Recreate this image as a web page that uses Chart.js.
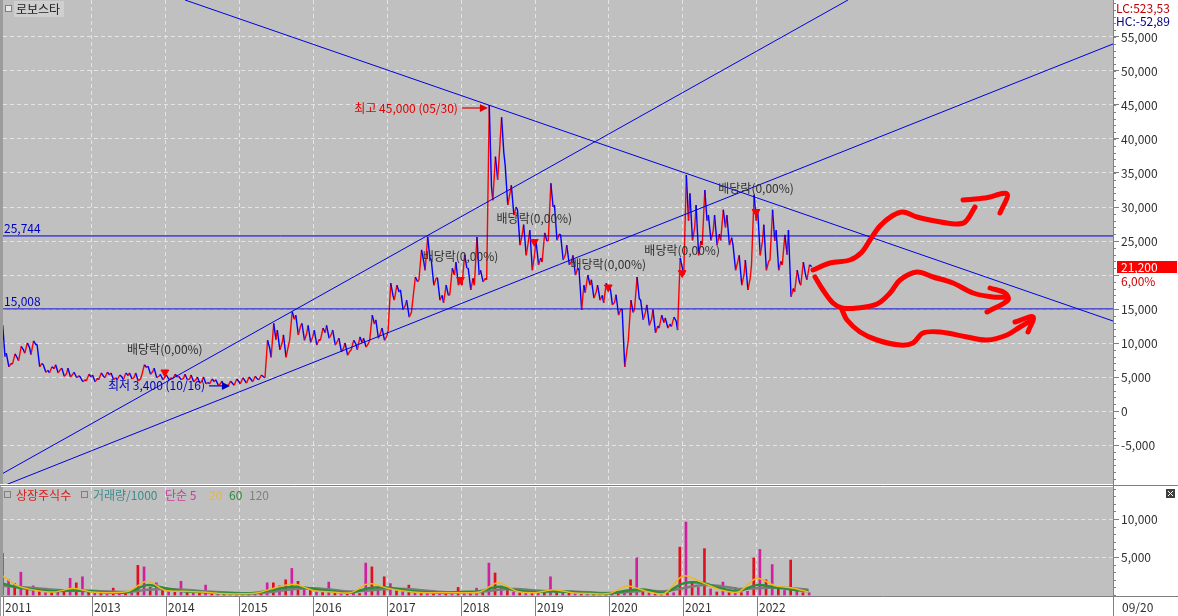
<!DOCTYPE html>
<html>
<head>
<meta charset="utf-8">
<script src="https://cdn.jsdelivr.net/npm/chart.js@4.4.0/dist/chart.umd.min.js"></script>
<style>
  body { margin: 0; background: #fff; width: 1178px; height: 616px; overflow: hidden; position: relative; }
  canvas { position: absolute; left: 0; }
  #price { top: 0; }
  #volume { top: 486px; }
</style>
</head>
<body>
<canvas id="price" width="1178" height="486"></canvas>
<canvas id="volume" width="1178" height="130"></canvas>
<script>
// monthly bars, Oct 2011 .. Sep 2022 (high / low / close)
const firstMonth = [2011, 10];
const priceHigh = [
  12600, 8500, 8400,
  9500, 10000, 10300, 9700, 6800, 6500, 6800, 6300, 6300, 5700, 5000, 5400,
  5300, 5600, 5700, 5600, 5300, 5600, 5600, 5600, 6800, 6600, 6300, 5400,
  5300, 5400, 5100, 5400, 5300, 5000, 5000, 4700, 4600, 4400, 4400, 4700,
  4900, 5000, 5100, 5300, 10400, 12900, 11900, 11200, 14600, 14100, 12900, 12600,
  11900, 12200, 12600, 11900, 10700, 10000, 10400, 10900, 10700, 14100, 13400, 12200,
  18800, 18500, 17800, 16300, 19700, 23700, 25600, 22200, 19600, 18500, 21000, 21900,
  23000, 21000, 25600, 20700, 45000, 37400, 43200, 36200, 33200, 29600, 27400, 26600,
  25100, 26200, 33500, 30300, 25900, 24400, 22900, 20700, 20000, 19300, 18500, 18800,
  18500, 17100, 14900, 16300, 19700, 16300, 15600, 14900, 14100, 13700, 13800, 22500,
  34700, 32000, 30300, 32500, 28800, 28800, 29600, 28800, 24400, 22900, 22200, 31800,
  29600, 27400, 29600, 26600, 25900, 26600, 20700, 21900, 21500
];
const priceLow = [
  7300, 6500, 6900,
  7400, 8500, 8300, 6500, 5700, 5600, 5600, 5100, 5000, 4900, 4300, 4400,
  4300, 4600, 4900, 4600, 4600, 4600, 4700, 4400, 5300, 5400, 4900, 4600,
  4600, 4700, 4600, 4600, 4300, 4100, 4000, 4000, 3800, 3400, 3700, 3800,
  4000, 4100, 4300, 4600, 4900, 7900, 9000, 7900, 10400, 11200, 10400, 10100,
  9700, 10400, 10700, 9700, 8700, 8200, 9000, 9000, 9400, 10400, 10700, 10400,
  11900, 16300, 14900, 13800, 16300, 19300, 20700, 18500, 16300, 15900, 17100, 18500,
  18500, 17800, 18500, 19000, 19300, 31000, 36900, 30300, 28800, 24400, 22900, 20700,
  21500, 21900, 25100, 25100, 22200, 21500, 20000, 14900, 17400, 16600, 16300, 15900,
  15600, 14100, 6500, 10400, 14900, 13400, 12600, 11500, 12200, 12200, 12400, 11900,
  20000, 25100, 22900, 24400, 25100, 24400, 25100, 24400, 20700, 18500, 17800, 21500,
  22900, 20700, 22200, 20700, 21500, 16800, 17500, 18500, 19300
];
const priceClose = [
  8000, 7000, 7800,
  9000, 9300, 9800, 7000, 6000, 6200, 6100, 5500, 5400, 5200, 4600, 5000,
  4800, 5100, 5300, 4900, 5000, 5200, 5000, 4700, 6400, 5800, 5100, 5000,
  4900, 5000, 4800, 4700, 4600, 4400, 4200, 4300, 4000, 3800, 4000, 4300,
  4400, 4600, 4700, 5000, 9200, 10500, 10000, 9500, 13500, 12500, 11400, 11000,
  10500, 11500, 11300, 10300, 9300, 8800, 9800, 10000, 9900, 12800, 11500, 11000,
  17000, 17500, 15500, 14500, 19000, 22000, 22500, 19500, 17000, 17000, 20000, 19500,
  21000, 19500, 20000, 19500, 33000, 34000, 38000, 32000, 30000, 26000, 25000, 23000,
  22500, 25000, 30000, 26000, 23000, 22000, 21000, 18500, 18500, 17500, 17000, 17800,
  16000, 15000, 9000, 14500, 16500, 14500, 13500, 12500, 13000, 12800, 13200, 21000,
  28000, 27000, 25000, 28000, 26500, 26000, 27000, 25500, 22000, 20000, 19500, 28000,
  25000, 22000, 25000, 22000, 23000, 18000, 19000, 20000, 21200
];
const volume = [
  5500, 2000, 1500,
  3000, 1000, 1200, 800, 600, 500, 400, 400, 2200, 1600, 2400, 400,
  300, 300, 300, 900, 300, 300, 300, 3900, 3700, 1000, 1600, 800,
  500, 400, 1800, 400, 300, 300, 1300, 300, 200, 200, 200, 200,
  200, 200, 200, 500, 1600, 1600, 1200, 2000, 3500, 1800, 800, 1000,
  500, 400, 1700, 400, 300, 300, 300, 200, 4200, 3700, 1000, 2400,
  1500, 600, 500, 1300, 500, 400, 300, 300, 300, 300, 300, 1000,
  300, 300, 900, 400, 4200, 2900, 1200, 600, 400, 300, 300, 300,
  300, 300, 2400, 600, 300, 300, 200, 300, 200, 200, 200, 200,
  200, 300, 300, 2000, 4900, 600, 400, 300, 200, 200, 300, 6300,
  9600, 1800, 1000, 6100, 800, 400, 1700, 400, 1000, 300, 500, 4900,
  6000, 2000, 4000, 800, 600, 4600, 500, 300, 300
];

// volume moving averages, read quarterly
const maDates = [2011.8, 2012.0, 2012.25, 2012.5, 2012.75, 2013.0, 2013.25, 2013.5, 2013.75,
  2014.0, 2014.25, 2014.5, 2014.75, 2015.0, 2015.25, 2015.5, 2015.75, 2016.0, 2016.25, 2016.5, 2016.75,
  2017.0, 2017.25, 2017.5, 2017.75, 2018.0, 2018.25, 2018.5, 2018.75, 2019.0, 2019.25, 2019.5, 2019.75,
  2020.0, 2020.25, 2020.5, 2020.75, 2021.0, 2021.25, 2021.5, 2021.75, 2022.0, 2022.25, 2022.5, 2022.7];
const ma20 = [2500, 1200, 600, 400, 900, 400, 300, 500, 1800, 600, 500, 400, 200, 150, 300, 1000, 1400,
  600, 400, 300, 1500, 900, 500, 300, 300, 300, 400, 1600, 500, 300, 700, 300, 200, 200, 1200, 500, 200,
  2500, 1700, 700, 400, 2200, 1200, 900, 400];
const ma60 = [1500, 1000, 700, 500, 600, 500, 300, 400, 1300, 900, 500, 400, 250, 200, 300, 800, 1100,
  800, 500, 300, 900, 1000, 600, 400, 300, 400, 500, 1100, 600, 400, 500, 400, 250, 200, 600, 700, 300,
  1500, 1600, 900, 500, 1300, 1000, 700, 500];
const ma120 = [1200, 1100, 900, 700, 600, 550, 450, 400, 700, 800, 700, 500, 350, 250, 250, 500, 800,
  900, 700, 450, 600, 800, 800, 600, 400, 350, 400, 700, 800, 600, 500, 450, 350, 250, 400, 550, 500,
  900, 1300, 1200, 800, 900, 1000, 900, 700];

// drawn lines: [year, price]
const fallLine = [[2014.263, 60441], [2026.82, 13235]];
const riseSteep = [[2011.80, -9162], [2023.234, 60441]];
const riseSlow = [[2011.80, -11029], [2026.82, 53971]];
const levels = [25744, 15008];

// dividend marks
const divDates = [2013.99, 2017.99, 2018.99, 2019.99, 2020.99, 2021.99];
const divPrice = [5700, 19300, 24900, 18200, 20300, 29300];
const divText = '배당락(0,00%)';
const highNote = { t: 2018.375, v: 45000, text: '최고 45,000 (05/30)' };
const lowNote = { t: 2014.79, v: 3400, text: '최저 3,400 (10/16)' };

// hand-drawn red arrows
const upperPath = [[2022.761, 20735], [2022.991, 21765], [2023.261, 22206], [2023.424, 23383], [2023.532, 25147],
  [2023.667, 27206], [2023.830, 28677], [2023.979, 29265], [2024.168, 28530], [2024.412, 27941],
  [2024.682, 27500], [2024.818, 27794], [2024.953, 30000]];
const upperHead = [[2024.791, 31030], [2025.088, 31324], [2025.386, 31912], [2025.291, 29118]];
const middlePath = [[2022.788, 19706], [2022.896, 17794], [2023.031, 15882], [2023.153, 15147], [2023.356, 15147],
  [2023.627, 15735], [2023.803, 17353], [2023.938, 19265], [2024.168, 20441], [2024.385, 19706],
  [2024.655, 18824], [2024.926, 17353], [2025.196, 16765], [2025.386, 16765]];
const middleHead = [[2025.156, 18088], [2025.359, 17353], [2025.399, 16324], [2025.115, 14559]];
const lowerPath = [[2023.153, 14853], [2023.221, 13382], [2023.397, 11618], [2023.627, 10441], [2023.938, 9706],
  [2024.114, 10000], [2024.249, 11471], [2024.479, 11618], [2024.845, 10882], [2025.115, 10441],
  [2025.386, 11176], [2025.562, 12353], [2025.724, 13382]];
const lowerHead = [[2025.494, 13088], [2025.738, 13824], [2025.670, 11618]];

// axes
const X_MIN = 2011.80, X_MAX = 2026.82;
const priceTicks = [-5000, 0, 5000, 10000, 15000, 20000, 25000, 30000, 35000, 40000, 45000, 50000, 55000];
const volTicks = [5000, 10000];
const yearTicks = [2013, 2014, 2015, 2016, 2017, 2018, 2019, 2020, 2021, 2022];
const xLabels = ['2011', '2013', '2014', '2015', '2016', '2017', '2018', '2019', '2020', '2021', '2022'];
const xLabelAt = [2011.80, 2013, 2014, 2015, 2016, 2017, 2018, 2019, 2020, 2021, 2022];
const lastDateLabel = '09/20';

const FONT = '"Noto Sans CJK KR", "Noto Sans", sans-serif';
const PANEL_BG = '#c0c0c0';
const GRID = '#e4e4e4';
const RED = '#ff0000';
const BLUE = '#0000ff';
const LINE_BLUE = '#0000e0';

const monthT = [];
for (let y = firstMonth[0], m = firstMonth[1]; monthT.length < priceHigh.length; ) {
  monthT.push(y + (m - 0.5) / 12);
  if (++m > 12) { m = 1; y++; }
}
const isUp = i => i === 0 || priceClose[i] >= priceClose[i - 1];
const pts = arr => arr.map(p => ({ x: p[0], y: p[1] }));

// each month drawn as low->high->close (up) or high->low->close (down)
const pricePath = [];
monthT.forEach((t, i) => {
  const up = isUp(i);
  pricePath.push(
    { x: t - 0.03, y: up ? priceLow[i] : priceHigh[i] },
    { x: t + 0.005, y: up ? priceHigh[i] : priceLow[i] },
    { x: t + 0.035, y: priceClose[i] }
  );
});

function fmt(v) { return v.toLocaleString('en-US'); }

function fillPanel(chart) {
  const { ctx, chartArea: a, width, height } = chart;
  ctx.save();
  ctx.fillStyle = '#fff';
  ctx.fillRect(0, 0, width, height);
  ctx.fillStyle = PANEL_BG;
  ctx.fillRect(a.left, a.top, a.right - a.left, a.bottom - a.top);
  ctx.fillStyle = '#9c9c9c';
  ctx.fillRect(0, a.top, a.left, a.bottom - a.top);
  ctx.restore();
}

function minorTicks(chart, step) {
  const { ctx, chartArea: a } = chart;
  const ys = chart.scales.y;
  ctx.save();
  ctx.strokeStyle = '#808080';
  ctx.lineWidth = 1;
  ctx.beginPath();
  for (let v = Math.ceil(ys.min / step) * step; v <= ys.max; v += step) {
    const y = Math.round(ys.getPixelForValue(v)) + 0.5;
    ctx.moveTo(a.right, y);
    ctx.lineTo(a.right + 3, y);
  }
  ctx.stroke();
  ctx.restore();
}

function arrowRight(ctx, x1, x2, y, color) {
  ctx.strokeStyle = color;
  ctx.fillStyle = color;
  ctx.lineWidth = 1.2;
  ctx.beginPath();
  ctx.moveTo(x1, y);
  ctx.lineTo(x2 - 5, y);
  ctx.stroke();
  ctx.beginPath();
  ctx.moveTo(x2, y);
  ctx.lineTo(x2 - 8, y - 4);
  ctx.lineTo(x2 - 8, y + 4);
  ctx.closePath();
  ctx.fill();
}

const pricePlugin = {
  id: 'pricePlugin',
  beforeDraw: fillPanel,
  afterDatasetsDraw(chart) {
    const { ctx, chartArea: a } = chart;
    const xs = chart.scales.x, ys = chart.scales.y;
    ctx.save();
    ctx.font = '12px ' + FONT;
    ctx.textBaseline = 'middle';

    // level labels
    ctx.fillStyle = '#0000c0';
    ctx.textAlign = 'left';
    levels.forEach(v => ctx.fillText(fmt(v), a.left + 1, ys.getPixelForValue(v) - 8));

    // dividend notes
    ctx.fillStyle = '#303030';
    ctx.textAlign = 'center';
    divDates.forEach((t, i) => {
      ctx.fillText(divText, xs.getPixelForValue(t), ys.getPixelForValue(divPrice[i]) - 23);
    });

    // high / low notes
    let px = xs.getPixelForValue(highNote.t), py = ys.getPixelForValue(highNote.v) + 3;
    ctx.fillStyle = '#e00000';
    ctx.textAlign = 'right';
    ctx.fillText(highNote.text, px - 31, py);
    arrowRight(ctx, px - 27, px - 1, py, '#e00000');

    px = xs.getPixelForValue(lowNote.t) + 6;
    py = ys.getPixelForValue(lowNote.v) - 2;
    ctx.fillStyle = '#0000c0';
    ctx.fillText(lowNote.text, px - 25, py);
    arrowRight(ctx, px - 21, px, py, '#0000c0');

    // title
    ctx.fillStyle = '#e8e8e8';
    ctx.fillRect(5, 5, 6, 6);
    ctx.strokeStyle = '#808080';
    ctx.lineWidth = 1;
    ctx.strokeRect(5.5, 5.5, 6, 6);
    ctx.fillStyle = '#cfcfcf';
    ctx.fillRect(14, 1, 50, 16);
    ctx.fillStyle = '#202020';
    ctx.textAlign = 'left';
    ctx.fillText('로보스타', 16, 9);
    ctx.restore();
  },
  afterDraw(chart) {
    const { ctx, chartArea: a, width, height } = chart;
    const ys = chart.scales.y;
    minorTicks(chart, 1000);
    ctx.save();
    ctx.strokeStyle = '#808080';
    ctx.lineWidth = 1;
    ctx.beginPath();
    ctx.moveTo(a.right + 0.5, 0);
    ctx.lineTo(a.right + 0.5, height);
    ctx.moveTo(0, height - 0.5);
    ctx.lineTo(width, height - 0.5);
    ctx.stroke();

    ctx.font = '12px ' + FONT;
    ctx.textBaseline = 'middle';
    ctx.textAlign = 'left';
    ctx.fillStyle = '#c00000';
    ctx.fillText('LC:523,53', a.right + 3, 8);
    ctx.fillStyle = '#000080';
    ctx.fillText('HC:-52,89', a.right + 3, 21);

    // last price tag (covers the axis label underneath)
    const last = priceClose[priceClose.length - 1];
    const y = Math.round(ys.getPixelForValue(last));
    ctx.fillStyle = '#fff';
    ctx.fillRect(a.right + 7, y + 6, 58, 15);
    ctx.fillStyle = RED;
    ctx.fillRect(a.right + 4, y - 6, 60, 12);
    ctx.fillStyle = '#fff';
    ctx.fillText(fmt(last), a.right + 8, y);
    ctx.fillStyle = '#d00000';
    ctx.fillText('6,00%', a.right + 8, y + 14);
    ctx.restore();
  }
};

const volumePlugin = {
  id: 'volumePlugin',
  beforeDraw: fillPanel,
  afterDraw(chart) {
    const { ctx, chartArea: a, width, height } = chart;
    const xs = chart.scales.x;
    minorTicks(chart, 1000);
    ctx.save();
    ctx.font = '12px ' + FONT;
    ctx.textBaseline = 'middle';
    ctx.textAlign = 'left';

    // legend
    const legend = [
      ['상장주식수', '#d42020', 16, true], ['거래량/1000', '#3c8c8c', 93, true],
      ['단순 5', '#c83ca0', 165, false], ['20', '#e8b830', 209, false],
      ['60', '#2e8b3a', 229, false], ['120', '#808080', 249, false]
    ];
    legend.forEach(([txt, col, x, box]) => {
      if (box) {
        ctx.strokeStyle = '#808080';
        ctx.lineWidth = 1;
        ctx.strokeRect(x - 11.5, 5.5, 6, 6);
      }
      ctx.fillStyle = col;
      ctx.fillText(txt, x, 9);
    });

    // close button
    ctx.fillStyle = '#404040';
    ctx.fillRect(1166, 3, 9, 9);
    ctx.strokeStyle = '#fff';
    ctx.beginPath();
    ctx.moveTo(1168, 5); ctx.lineTo(1173, 10);
    ctx.moveTo(1173, 5); ctx.lineTo(1168, 10);
    ctx.stroke();

    // date bar
    ctx.fillStyle = '#fff';
    ctx.fillRect(0, a.bottom + 1, width, height - a.bottom - 1);
    ctx.strokeStyle = '#808080';
    ctx.beginPath();
    ctx.moveTo(0, a.bottom + 0.5);
    ctx.lineTo(width, a.bottom + 0.5);
    ctx.moveTo(a.right + 0.5, 0);
    ctx.lineTo(a.right + 0.5, height);
    xLabelAt.forEach(t => {
      const x = Math.round(xs.getPixelForValue(t)) + 0.5;
      ctx.moveTo(x, a.bottom);
      ctx.lineTo(x, height);
    });
    ctx.stroke();
    ctx.fillStyle = '#303030';
    const midY = (a.bottom + height) / 2 + 1;
    xLabels.forEach((lab, i) => ctx.fillText(lab, Math.round(xs.getPixelForValue(xLabelAt[i])) + 2, midY));
    ctx.fillText(lastDateLabel, a.right + 9, midY);
    ctx.fillStyle = '#9c9c9c';
    ctx.fillRect(0, 0, 1, height);
    ctx.restore();
  }
};

function noPad(s) { s.paddingTop = 0; s.paddingBottom = 0; s.paddingLeft = 0; s.paddingRight = 0; }

function xAxis() {
  return {
    type: 'linear', min: X_MIN, max: X_MAX, offset: false,
    ticks: { display: false },
    grid: { color: GRID, drawTicks: false, offset: false },
    border: { display: false, dash: [4, 3] },
    afterBuildTicks: s => { s.ticks = yearTicks.map(v => ({ value: v })); },
    afterFit: s => { s.height = 0; noPad(s); }
  };
}

function yAxis(min, max, ticks) {
  return {
    position: 'right', min, max,
    ticks: { color: '#303030', font: { size: 12, family: FONT }, padding: 2, autoSkip: false, callback: v => fmt(v) },
    grid: { color: GRID, tickColor: '#808080', tickLength: 6 },
    border: { color: '#808080', dash: [4, 3] },
    afterBuildTicks: s => { s.ticks = ticks.map(v => ({ value: v })); },
    afterFit: s => { s.width = 65; noPad(s); }
  };
}

const lineDs = (data, color, width, order, extra) => Object.assign({
  type: 'line', data: Array.isArray(data[0]) ? pts(data) : data, borderColor: color, borderWidth: width,
  pointRadius: 0, order, tension: 0
}, extra || {});

const redStroke = { tension: 0.35, borderCapStyle: 'round', borderJoinStyle: 'round' };

new Chart(document.getElementById('price'), {
  type: 'bar',
  data: {
    datasets: [
      lineDs(pricePath, BLUE, 1.4, 4, {
        segment: { borderColor: c => c.p1.parsed.y >= c.p0.parsed.y ? RED : BLUE }
      }),
      lineDs(fallLine, LINE_BLUE, 1, 3),
      lineDs(riseSteep, LINE_BLUE, 1, 3),
      lineDs(riseSlow, LINE_BLUE, 1, 3),
      lineDs([[X_MIN, levels[0]], [X_MAX, levels[0]]], LINE_BLUE, 1, 3),
      lineDs([[X_MIN, levels[1]], [X_MAX, levels[1]]], LINE_BLUE, 1, 3),
      {
        type: 'scatter', order: 2, data: divDates.map((t, i) => ({ x: t, y: divPrice[i] })),
        pointStyle: 'triangle', rotation: 180, radius: 4.5, backgroundColor: RED, borderColor: RED, borderWidth: 1
      },
      lineDs(upperPath, RED, 5, 0, redStroke),
      lineDs(upperHead, RED, 5, 0, redStroke),
      lineDs(middlePath, RED, 5, 0, redStroke),
      lineDs(middleHead, RED, 5, 0, redStroke),
      lineDs(lowerPath, RED, 5, 0, redStroke),
      lineDs(lowerHead, RED, 5, 0, redStroke)
    ]
  },
  options: {
    responsive: false, animation: false, events: [],
    layout: { autoPadding: false, padding: { left: 3, top: 0, right: 0, bottom: 2 } },
    plugins: { legend: { display: false }, tooltip: { enabled: false } },
    scales: { x: xAxis(), y: yAxis(-10735, 60441, priceTicks) }
  },
  plugins: [pricePlugin]
});

new Chart(document.getElementById('volume'), {
  type: 'bar',
  data: {
    datasets: [
      {
        type: 'bar', order: 3, barThickness: 2, grouped: false,
        data: monthT.map((t, i) => ({ x: t, y: volume[i] })),
        backgroundColor: ctx => ctx.dataIndex % 2 ? '#d020a0' : '#e01020'
      },
      lineDs(maDates.map((t, i) => [t, ma120[i]]), '#7c7c7c', 2.5, 2, { tension: 0.3 }),
      lineDs(maDates.map((t, i) => [t, ma60[i]]), '#2e8b3a', 2.5, 1, { tension: 0.3 }),
      lineDs(maDates.map((t, i) => [t, ma20[i]]), '#f0b820', 1.5, 0, { tension: 0.3 })
    ]
  },
  options: {
    responsive: false, animation: false, events: [],
    layout: { autoPadding: false, padding: { left: 3, top: 1, right: 0, bottom: 20 } },
    plugins: { legend: { display: false }, tooltip: { enabled: false } },
    scales: { x: xAxis(), y: yAxis(-130, 14210, volTicks) }
  },
  plugins: [volumePlugin]
});
</script>
</body>
</html>
